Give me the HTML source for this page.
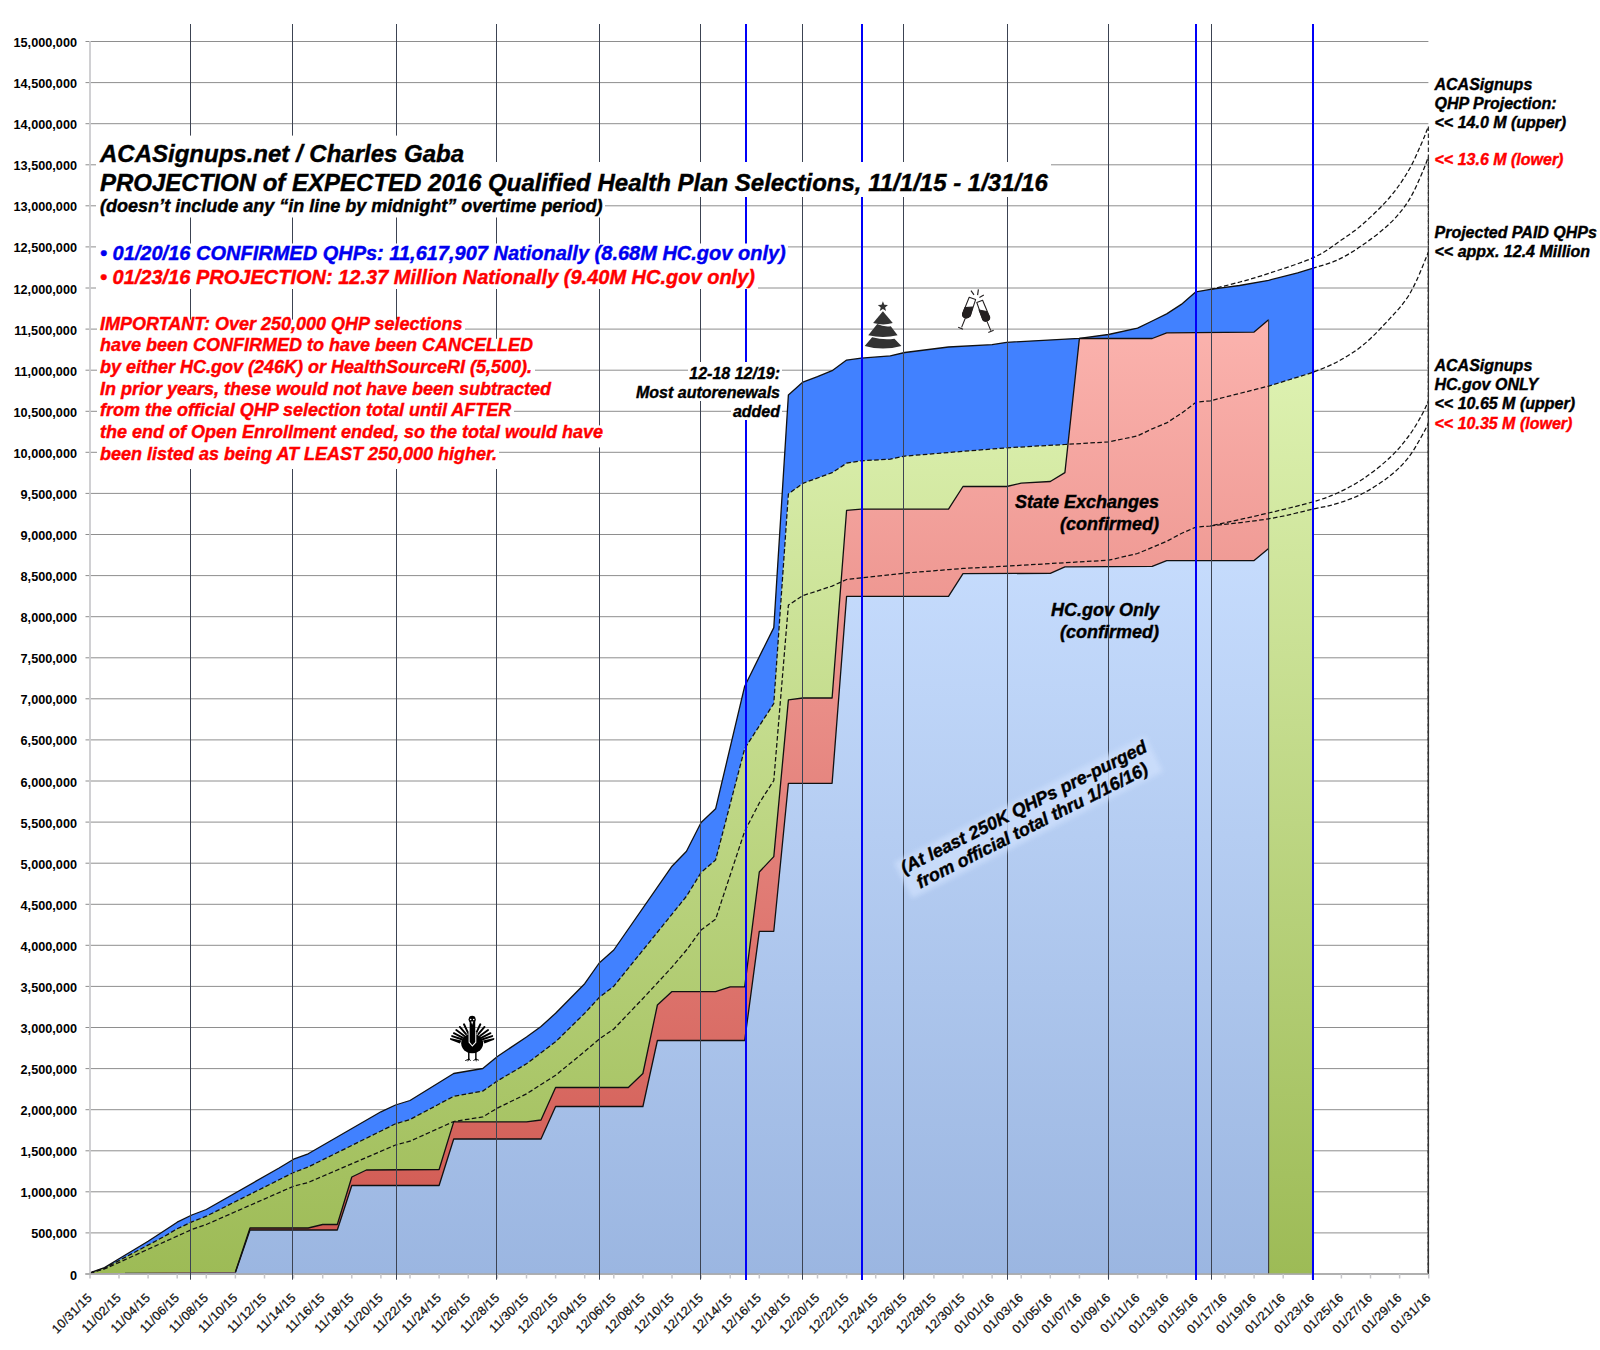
<!DOCTYPE html>
<html lang="en"><head><meta charset="utf-8"><title>ACASignups.net QHP Projection</title>
<style>
html,body{margin:0;padding:0;background:#fff;}
body{width:1600px;height:1350px;overflow:hidden;}
svg{display:block;}
text{font-family:"Liberation Sans",sans-serif;}
.ax{font-weight:bold;font-size:12.7px;fill:#000;}
.bi{font-weight:bold;font-style:italic;color:#000;fill:currentColor;stroke:currentColor;stroke-width:0.4px;}
</style></head><body>
<svg width="1600" height="1350" viewBox="0 0 1600 1350">
<defs>
<linearGradient id="gG" gradientUnits="userSpaceOnUse" x1="0" y1="372" x2="0" y2="1274"><stop offset="0" stop-color="#ddf1b0"/><stop offset="1" stop-color="#9dbb56"/></linearGradient>
<linearGradient id="gR" gradientUnits="userSpaceOnUse" x1="0" y1="320" x2="0" y2="1274"><stop offset="0" stop-color="#fbb3ae"/><stop offset="1" stop-color="#cf564e"/></linearGradient>
<linearGradient id="gL" gradientUnits="userSpaceOnUse" x1="0" y1="548" x2="0" y2="1274"><stop offset="0" stop-color="#c6dcfd"/><stop offset="1" stop-color="#9bb6e1"/></linearGradient>
<filter id="bl" x="-10%" y="-30%" width="120%" height="160%"><feGaussianBlur stdDeviation="2.5"/></filter>
</defs>
<rect width="1600" height="1350" fill="#fff"/>

<g stroke="#8e8e8e" stroke-width="1">
<line x1="85.5" y1="1274.0" x2="1428.4" y2="1274.0"/>
<line x1="85.5" y1="1232.9" x2="1428.4" y2="1232.9"/>
<line x1="85.5" y1="1191.8" x2="1428.4" y2="1191.8"/>
<line x1="85.5" y1="1150.8" x2="1428.4" y2="1150.8"/>
<line x1="85.5" y1="1109.7" x2="1428.4" y2="1109.7"/>
<line x1="85.5" y1="1068.6" x2="1428.4" y2="1068.6"/>
<line x1="85.5" y1="1027.5" x2="1428.4" y2="1027.5"/>
<line x1="85.5" y1="986.4" x2="1428.4" y2="986.4"/>
<line x1="85.5" y1="945.3" x2="1428.4" y2="945.3"/>
<line x1="85.5" y1="904.3" x2="1428.4" y2="904.3"/>
<line x1="85.5" y1="863.2" x2="1428.4" y2="863.2"/>
<line x1="85.5" y1="822.1" x2="1428.4" y2="822.1"/>
<line x1="85.5" y1="781.0" x2="1428.4" y2="781.0"/>
<line x1="85.5" y1="739.9" x2="1428.4" y2="739.9"/>
<line x1="85.5" y1="698.8" x2="1428.4" y2="698.8"/>
<line x1="85.5" y1="657.8" x2="1428.4" y2="657.8"/>
<line x1="85.5" y1="616.7" x2="1428.4" y2="616.7"/>
<line x1="85.5" y1="575.6" x2="1428.4" y2="575.6"/>
<line x1="85.5" y1="534.5" x2="1428.4" y2="534.5"/>
<line x1="85.5" y1="493.4" x2="1428.4" y2="493.4"/>
<line x1="85.5" y1="452.3" x2="1428.4" y2="452.3"/>
<line x1="85.5" y1="411.3" x2="1428.4" y2="411.3"/>
<line x1="85.5" y1="370.2" x2="1428.4" y2="370.2"/>
<line x1="85.5" y1="329.1" x2="1428.4" y2="329.1"/>
<line x1="85.5" y1="288.0" x2="1428.4" y2="288.0"/>
<line x1="85.5" y1="246.9" x2="1428.4" y2="246.9"/>
<line x1="85.5" y1="205.8" x2="1428.4" y2="205.8"/>
<line x1="85.5" y1="164.8" x2="1428.4" y2="164.8"/>
<line x1="85.5" y1="123.7" x2="1428.4" y2="123.7"/>
<line x1="85.5" y1="82.6" x2="1428.4" y2="82.6"/>
<line x1="85.5" y1="41.5" x2="1428.4" y2="41.5"/>
</g>
<polygon points="89.9,1274.0 89.9,1272.8 104.5,1267.6 119.0,1258.8 133.6,1250.0 148.1,1241.3 162.7,1231.7 177.2,1222.2 191.8,1215.0 206.3,1209.5 279.1,1168.0 293.6,1159.2 308.2,1153.8 380.9,1111.8 395.5,1105.0 410.0,1100.5 453.7,1073.5 482.8,1068.5 497.4,1056.5 526.5,1037.0 541.0,1026.4 555.6,1013.3 584.7,983.7 599.2,963.0 613.8,950.0 672.0,866.2 686.5,851.2 701.1,822.5 715.6,808.8 744.7,686.2 773.8,627.6 788.4,394.9 802.9,382.1 817.5,376.7 832.1,370.7 846.6,360.1 861.2,358.2 890.3,355.8 904.8,352.5 948.5,347.0 992.1,344.7 1006.7,342.3 1079.4,338.3 1108.5,334.5 1137.6,328.1 1152.2,321.0 1166.7,313.9 1181.3,304.4 1195.9,291.8 1210.4,289.4 1239.5,285.5 1268.6,280.3 1297.7,272.8 1312.3,268.4 1312.3,1274.0" fill="#4181ff"/>
<polygon points="89.9,1274.0 89.9,1273.0 104.5,1268.3 162.7,1237.3 177.2,1228.8 191.8,1221.9 206.3,1216.2 293.6,1172.5 308.2,1167.0 395.5,1123.8 410.0,1119.5 453.7,1096.3 482.8,1091.1 497.4,1080.9 526.5,1063.8 555.6,1041.8 584.7,1013.3 599.2,997.5 613.8,986.2 686.5,896.2 701.1,872.5 715.6,860.0 744.7,748.5 773.8,703.5 788.4,494.0 802.9,483.3 832.1,472.7 846.6,463.2 861.2,460.8 890.3,459.2 904.8,456.1 1006.7,447.8 1064.9,444.5 1108.5,441.9 1137.6,435.9 1152.2,428.8 1166.7,422.9 1181.3,413.4 1195.9,402.3 1210.4,400.8 1268.6,386.1 1312.3,372.6 1312.3,1274.0" fill="url(#gG)"/>
<polygon points="89.9,1274.0 89.9,1273.5 133.6,1273.0 235.4,1272.0 250.0,1228.0 308.2,1228.0 322.7,1224.5 337.3,1224.5 351.8,1177.0 366.4,1170.0 439.1,1169.5 453.7,1121.9 526.5,1121.9 541.0,1120.0 555.6,1087.5 628.3,1087.5 642.9,1073.5 657.4,1005.0 672.0,991.6 715.6,991.6 730.2,986.8 744.7,986.8 759.3,872.0 773.8,856.6 788.4,699.9 802.9,698.0 832.1,698.0 846.6,510.3 861.2,509.1 948.5,509.1 963.0,486.5 1006.7,486.5 1021.2,483.2 1050.3,481.5 1064.9,472.6 1079.4,338.5 1152.2,338.5 1166.7,332.8 1254.1,332.1 1268.6,319.8 1268.6,1274.0" fill="url(#gR)"/>
<polygon points="89.9,1274.0 89.9,1273.5 235.4,1272.5 250.0,1230.0 337.3,1230.0 351.8,1185.5 439.1,1185.5 453.7,1139.0 541.0,1139.0 555.6,1106.5 642.9,1106.5 657.4,1040.5 744.7,1040.5 759.3,931.3 773.8,931.3 788.4,783.3 832.1,783.3 846.6,596.3 948.5,596.3 963.0,573.6 1050.3,573.4 1064.9,566.8 1152.2,566.4 1166.7,560.6 1254.1,560.6 1268.6,548.6 1268.6,1274.0" fill="url(#gL)"/>
<g fill="none" stroke="#111" stroke-width="1.3" stroke-linejoin="round">
<polyline points="89.9,1272.8 104.5,1267.6 119.0,1258.8 133.6,1250.0 148.1,1241.3 162.7,1231.7 177.2,1222.2 191.8,1215.0 206.3,1209.5 279.1,1168.0 293.6,1159.2 308.2,1153.8 380.9,1111.8 395.5,1105.0 410.0,1100.5 453.7,1073.5 482.8,1068.5 497.4,1056.5 526.5,1037.0 541.0,1026.4 555.6,1013.3 584.7,983.7 599.2,963.0 613.8,950.0 672.0,866.2 686.5,851.2 701.1,822.5 715.6,808.8 744.7,686.2 773.8,627.6 788.4,394.9 802.9,382.1 817.5,376.7 832.1,370.7 846.6,360.1 861.2,358.2 890.3,355.8 904.8,352.5 948.5,347.0 992.1,344.7 1006.7,342.3 1079.4,338.3 1108.5,334.5 1137.6,328.1 1152.2,321.0 1166.7,313.9 1181.3,304.4 1195.9,291.8 1210.4,289.4 1239.5,285.5 1268.6,280.3 1297.7,272.8 1312.3,268.4"/>
<polyline points="235.4,1272.0 250.0,1228.0 308.2,1228.0 322.7,1224.5 337.3,1224.5 351.8,1177.0 366.4,1170.0 439.1,1169.5 453.7,1121.9 526.5,1121.9 541.0,1120.0 555.6,1087.5 628.3,1087.5 642.9,1073.5 657.4,1005.0 672.0,991.6 715.6,991.6 730.2,986.8 744.7,986.8 759.3,872.0 773.8,856.6 788.4,699.9 802.9,698.0 832.1,698.0 846.6,510.3 861.2,509.1 948.5,509.1 963.0,486.5 1006.7,486.5 1021.2,483.2 1050.3,481.5 1064.9,472.6 1079.4,338.5 1152.2,338.5 1166.7,332.8 1254.1,332.1 1268.6,319.8"/>
<polyline points="235.4,1272.5 250.0,1230.0 337.3,1230.0 351.8,1185.5 439.1,1185.5 453.7,1139.0 541.0,1139.0 555.6,1106.5 642.9,1106.5 657.4,1040.5 744.7,1040.5 759.3,931.3 773.8,931.3 788.4,783.3 832.1,783.3 846.6,596.3 948.5,596.3 963.0,573.6 1050.3,573.4 1064.9,566.8 1152.2,566.4 1166.7,560.6 1254.1,560.6 1268.6,548.6"/>
<line x1="1268.6" y1="319.8" x2="1268.6" y2="1274.0" stroke="#3a3a3a" stroke-width="1.1"/>
<line x1="125" y1="1273" x2="235.4" y2="1272.6" stroke-width="0.7" stroke="#444"/>
</g>
<g fill="none" stroke="#111" stroke-width="1.25" stroke-dasharray="4.6,2.4">
<path d="M89.9,1273.0 L104.5,1268.3 L162.7,1237.3 L177.2,1228.8 L191.8,1221.9 L206.3,1216.2 L293.6,1172.5 L308.2,1167.0 L395.5,1123.8 L410.0,1119.5 L453.7,1096.3 L482.8,1091.1 L497.4,1080.9 L526.5,1063.8 L555.6,1041.8 L584.7,1013.3 L599.2,997.5 L613.8,986.2 L686.5,896.2 L701.1,872.5 L715.6,860.0 L744.7,748.5 L773.8,703.5 L788.4,494.0 L802.9,483.3 L832.1,472.7 L846.6,463.2 L861.2,460.8 L890.3,459.2 L904.8,456.1 L1006.7,447.8 L1064.9,444.5 L1108.5,441.9 L1137.6,435.9 L1152.2,428.8 L1166.7,422.9 L1181.3,413.4 L1195.9,402.3 L1210.4,400.8 L1268.6,386.1 L1312.3,372.6 L1312.3,372.6 C1316.5,370.8 1328.9,366.4 1337.5,361.7 C1346.1,357.0 1355.0,351.8 1363.7,344.6 C1372.5,337.4 1383.0,325.8 1390.0,318.4 C1397.0,311.0 1401.3,306.2 1405.7,300.0 C1410.1,293.8 1412.5,289.0 1416.3,281.0 C1420.1,273.0 1426.4,256.9 1428.4,252.1"/>
<path d="M89.9,1273.2 L104.5,1269.0 L191.8,1229.5 L206.3,1224.5 L293.6,1186.2 L308.2,1182.5 L395.5,1145.0 L410.0,1141.2 L453.7,1121.5 L482.8,1116.9 L497.4,1108.1 L526.5,1093.9 L555.6,1075.3 L584.7,1051.5 L599.2,1039.0 L613.8,1029.0 L642.9,998.5 L672.0,967.1 L686.5,950.0 L701.1,930.0 L715.6,919.2 L744.7,831.2 L759.3,803.0 L773.8,780.5 L788.4,605.1 L802.9,595.6 L832.1,586.1 L846.6,579.5 L861.2,577.9 L904.8,573.1 L948.5,569.6 L963.0,568.4 L1006.7,566.1 L1108.5,560.2 L1137.6,553.5 L1152.2,547.4 L1166.7,541.3 L1181.3,533.5 L1195.9,527.1 L1210.4,526.0 L1210.4,526.0 C1220.1,523.8 1251.6,517.0 1268.6,513.0 C1285.6,509.0 1300.8,505.3 1312.3,502.0 C1323.7,498.7 1328.9,496.9 1337.5,493.0 C1346.1,489.1 1355.0,484.4 1363.7,478.5 C1372.5,472.6 1382.5,464.5 1390.0,457.5 C1397.5,450.5 1403.2,443.5 1408.4,436.5 C1413.7,429.5 1418.2,421.4 1421.5,415.5 C1424.8,409.6 1427.2,403.4 1428.4,401.0"/>
<path d="M1210.4,526.0 C1220.1,524.8 1251.6,521.6 1268.6,518.8 C1285.6,516.0 1300.8,511.9 1312.3,509.3 C1323.7,506.7 1328.9,506.1 1337.5,503.4 C1346.1,500.7 1355.0,497.6 1363.7,493.0 C1372.5,488.4 1382.5,481.8 1390.0,475.9 C1397.5,470.0 1403.2,464.1 1408.4,457.5 C1413.7,450.9 1418.2,442.2 1421.5,436.5 C1424.8,430.8 1427.2,425.6 1428.4,423.4"/>
<path d="M1210.4,289.4 C1215.3,288.2 1230.1,284.7 1240.0,282.0 C1249.9,279.3 1257.7,277.1 1270.0,273.0 C1282.3,268.9 1302.2,262.7 1313.9,257.4 C1325.6,252.1 1331.7,246.7 1340.0,241.0 C1348.3,235.3 1355.4,230.6 1363.7,223.3 C1372.0,216.0 1382.5,205.8 1390.0,197.0 C1397.5,188.2 1403.2,179.7 1408.4,170.8 C1413.7,161.9 1418.2,150.9 1421.5,143.5 C1424.8,136.1 1427.2,129.3 1428.4,126.5"/>
<path d="M1312.3,268.4 C1316.5,267.0 1328.9,264.0 1337.5,260.0 C1346.1,256.0 1355.0,250.4 1363.7,244.3 C1372.5,238.2 1382.5,230.5 1390.0,223.3 C1397.5,216.1 1403.2,209.1 1408.4,201.0 C1413.7,192.9 1418.2,181.8 1421.5,174.5 C1424.8,167.2 1427.2,159.9 1428.4,157.0"/>
<line x1="1428.4" y1="126.5" x2="1428.4" y2="1274.0" stroke="#333"/>
<line x1="1428.4" y1="157.0" x2="1428.4" y2="1274.0" stroke="#333"/>
<line x1="1428.4" y1="252.1" x2="1428.4" y2="1274.0" stroke="#333"/>
<line x1="1428.4" y1="401.0" x2="1428.4" y2="1274.0" stroke="#333"/>
<line x1="1428.4" y1="423.4" x2="1428.4" y2="1274.0" stroke="#333"/>
</g>
<g stroke="#cbcbce" stroke-width="1.8">
<line x1="90" y1="41" x2="90" y2="1278.4"/>
</g>
<line x1="85.3" y1="1274" x2="1428.4" y2="1274" stroke="#a8a8a8" stroke-width="1.4"/>
<g stroke="#c6c6ca" stroke-width="1.5">
<line x1="119.0" y1="1274.0" x2="119.0" y2="1278.5"/>
<line x1="148.1" y1="1274.0" x2="148.1" y2="1278.5"/>
<line x1="177.2" y1="1274.0" x2="177.2" y2="1278.5"/>
<line x1="206.3" y1="1274.0" x2="206.3" y2="1278.5"/>
<line x1="235.4" y1="1274.0" x2="235.4" y2="1278.5"/>
<line x1="264.5" y1="1274.0" x2="264.5" y2="1278.5"/>
<line x1="293.6" y1="1274.0" x2="293.6" y2="1278.5"/>
<line x1="322.7" y1="1274.0" x2="322.7" y2="1278.5"/>
<line x1="351.8" y1="1274.0" x2="351.8" y2="1278.5"/>
<line x1="380.9" y1="1274.0" x2="380.9" y2="1278.5"/>
<line x1="410.0" y1="1274.0" x2="410.0" y2="1278.5"/>
<line x1="439.1" y1="1274.0" x2="439.1" y2="1278.5"/>
<line x1="468.3" y1="1274.0" x2="468.3" y2="1278.5"/>
<line x1="497.4" y1="1274.0" x2="497.4" y2="1278.5"/>
<line x1="526.5" y1="1274.0" x2="526.5" y2="1278.5"/>
<line x1="555.6" y1="1274.0" x2="555.6" y2="1278.5"/>
<line x1="584.7" y1="1274.0" x2="584.7" y2="1278.5"/>
<line x1="613.8" y1="1274.0" x2="613.8" y2="1278.5"/>
<line x1="642.9" y1="1274.0" x2="642.9" y2="1278.5"/>
<line x1="672.0" y1="1274.0" x2="672.0" y2="1278.5"/>
<line x1="701.1" y1="1274.0" x2="701.1" y2="1278.5"/>
<line x1="730.2" y1="1274.0" x2="730.2" y2="1278.5"/>
<line x1="759.3" y1="1274.0" x2="759.3" y2="1278.5"/>
<line x1="788.4" y1="1274.0" x2="788.4" y2="1278.5"/>
<line x1="817.5" y1="1274.0" x2="817.5" y2="1278.5"/>
<line x1="846.6" y1="1274.0" x2="846.6" y2="1278.5"/>
<line x1="875.7" y1="1274.0" x2="875.7" y2="1278.5"/>
<line x1="904.8" y1="1274.0" x2="904.8" y2="1278.5"/>
<line x1="933.9" y1="1274.0" x2="933.9" y2="1278.5"/>
<line x1="963.0" y1="1274.0" x2="963.0" y2="1278.5"/>
<line x1="992.1" y1="1274.0" x2="992.1" y2="1278.5"/>
<line x1="1021.2" y1="1274.0" x2="1021.2" y2="1278.5"/>
<line x1="1050.3" y1="1274.0" x2="1050.3" y2="1278.5"/>
<line x1="1079.4" y1="1274.0" x2="1079.4" y2="1278.5"/>
<line x1="1108.5" y1="1274.0" x2="1108.5" y2="1278.5"/>
<line x1="1137.6" y1="1274.0" x2="1137.6" y2="1278.5"/>
<line x1="1166.7" y1="1274.0" x2="1166.7" y2="1278.5"/>
<line x1="1195.9" y1="1274.0" x2="1195.9" y2="1278.5"/>
<line x1="1225.0" y1="1274.0" x2="1225.0" y2="1278.5"/>
<line x1="1254.1" y1="1274.0" x2="1254.1" y2="1278.5"/>
<line x1="1283.2" y1="1274.0" x2="1283.2" y2="1278.5"/>
<line x1="1312.3" y1="1274.0" x2="1312.3" y2="1278.5"/>
<line x1="1341.4" y1="1274.0" x2="1341.4" y2="1278.5"/>
<line x1="1370.5" y1="1274.0" x2="1370.5" y2="1278.5"/>
<line x1="1399.6" y1="1274.0" x2="1399.6" y2="1278.5"/>
<line x1="1428.7" y1="1274.0" x2="1428.7" y2="1278.5"/>
</g>
<g stroke="#3c4352" stroke-width="1">
<line x1="190.5" y1="24" x2="190.5" y2="1279.7"/>
<line x1="292.5" y1="24" x2="292.5" y2="1279.7"/>
<line x1="396.5" y1="24" x2="396.5" y2="1279.7"/>
<line x1="496.5" y1="24" x2="496.5" y2="1279.7"/>
<line x1="599.5" y1="24" x2="599.5" y2="1279.7"/>
<line x1="700.5" y1="24" x2="700.5" y2="1279.7"/>
<line x1="802.5" y1="24" x2="802.5" y2="1279.7"/>
<line x1="903.5" y1="24" x2="903.5" y2="1279.7"/>
<line x1="1007.5" y1="24" x2="1007.5" y2="1279.7"/>
<line x1="1108.5" y1="24" x2="1108.5" y2="1279.7"/>
<line x1="1211.5" y1="24" x2="1211.5" y2="1279.7"/>
</g>
<g stroke="#0000f8" stroke-width="2">
<line x1="746.0" y1="24" x2="746.0" y2="1280"/>
<line x1="862.0" y1="24" x2="862.0" y2="1280"/>
<line x1="1196.0" y1="24" x2="1196.0" y2="1280"/>
<line x1="1313.0" y1="24" x2="1313.0" y2="1280"/>
</g>
<g class="ax" text-anchor="end">
<text x="77" y="1279.5">0</text>
<text x="77" y="1238.4">500,000</text>
<text x="77" y="1197.3">1,000,000</text>
<text x="77" y="1156.3">1,500,000</text>
<text x="77" y="1115.2">2,000,000</text>
<text x="77" y="1074.1">2,500,000</text>
<text x="77" y="1033.0">3,000,000</text>
<text x="77" y="991.9">3,500,000</text>
<text x="77" y="950.8">4,000,000</text>
<text x="77" y="909.8">4,500,000</text>
<text x="77" y="868.7">5,000,000</text>
<text x="77" y="827.6">5,500,000</text>
<text x="77" y="786.5">6,000,000</text>
<text x="77" y="745.4">6,500,000</text>
<text x="77" y="704.3">7,000,000</text>
<text x="77" y="663.3">7,500,000</text>
<text x="77" y="622.2">8,000,000</text>
<text x="77" y="581.1">8,500,000</text>
<text x="77" y="540.0">9,000,000</text>
<text x="77" y="498.9">9,500,000</text>
<text x="77" y="457.8">10,000,000</text>
<text x="77" y="416.8">10,500,000</text>
<text x="77" y="375.7">11,000,000</text>
<text x="77" y="334.6">11,500,000</text>
<text x="77" y="293.5">12,000,000</text>
<text x="77" y="252.4">12,500,000</text>
<text x="77" y="211.3">13,000,000</text>
<text x="77" y="170.3">13,500,000</text>
<text x="77" y="129.2">14,000,000</text>
<text x="77" y="88.1">14,500,000</text>
<text x="77" y="47.0">15,000,000</text>
</g>
<g text-anchor="end" style="font-size:12.5px;letter-spacing:0.25px;fill:#111;stroke:#111;stroke-width:0.25px">
<text transform="translate(92.8,1298.3) rotate(-45)" x="0" y="0">10/31/15</text>
<text transform="translate(121.9,1298.3) rotate(-45)" x="0" y="0">11/02/15</text>
<text transform="translate(151.0,1298.3) rotate(-45)" x="0" y="0">11/04/15</text>
<text transform="translate(180.1,1298.3) rotate(-45)" x="0" y="0">11/06/15</text>
<text transform="translate(209.2,1298.3) rotate(-45)" x="0" y="0">11/08/15</text>
<text transform="translate(238.3,1298.3) rotate(-45)" x="0" y="0">11/10/15</text>
<text transform="translate(267.4,1298.3) rotate(-45)" x="0" y="0">11/12/15</text>
<text transform="translate(296.5,1298.3) rotate(-45)" x="0" y="0">11/14/15</text>
<text transform="translate(325.6,1298.3) rotate(-45)" x="0" y="0">11/16/15</text>
<text transform="translate(354.7,1298.3) rotate(-45)" x="0" y="0">11/18/15</text>
<text transform="translate(383.8,1298.3) rotate(-45)" x="0" y="0">11/20/15</text>
<text transform="translate(412.9,1298.3) rotate(-45)" x="0" y="0">11/22/15</text>
<text transform="translate(442.0,1298.3) rotate(-45)" x="0" y="0">11/24/15</text>
<text transform="translate(471.2,1298.3) rotate(-45)" x="0" y="0">11/26/15</text>
<text transform="translate(500.3,1298.3) rotate(-45)" x="0" y="0">11/28/15</text>
<text transform="translate(529.4,1298.3) rotate(-45)" x="0" y="0">11/30/15</text>
<text transform="translate(558.5,1298.3) rotate(-45)" x="0" y="0">12/02/15</text>
<text transform="translate(587.6,1298.3) rotate(-45)" x="0" y="0">12/04/15</text>
<text transform="translate(616.7,1298.3) rotate(-45)" x="0" y="0">12/06/15</text>
<text transform="translate(645.8,1298.3) rotate(-45)" x="0" y="0">12/08/15</text>
<text transform="translate(674.9,1298.3) rotate(-45)" x="0" y="0">12/10/15</text>
<text transform="translate(704.0,1298.3) rotate(-45)" x="0" y="0">12/12/15</text>
<text transform="translate(733.1,1298.3) rotate(-45)" x="0" y="0">12/14/15</text>
<text transform="translate(762.2,1298.3) rotate(-45)" x="0" y="0">12/16/15</text>
<text transform="translate(791.3,1298.3) rotate(-45)" x="0" y="0">12/18/15</text>
<text transform="translate(820.4,1298.3) rotate(-45)" x="0" y="0">12/20/15</text>
<text transform="translate(849.5,1298.3) rotate(-45)" x="0" y="0">12/22/15</text>
<text transform="translate(878.6,1298.3) rotate(-45)" x="0" y="0">12/24/15</text>
<text transform="translate(907.7,1298.3) rotate(-45)" x="0" y="0">12/26/15</text>
<text transform="translate(936.8,1298.3) rotate(-45)" x="0" y="0">12/28/15</text>
<text transform="translate(965.9,1298.3) rotate(-45)" x="0" y="0">12/30/15</text>
<text transform="translate(995.0,1298.3) rotate(-45)" x="0" y="0">01/01/16</text>
<text transform="translate(1024.1,1298.3) rotate(-45)" x="0" y="0">01/03/16</text>
<text transform="translate(1053.2,1298.3) rotate(-45)" x="0" y="0">01/05/16</text>
<text transform="translate(1082.3,1298.3) rotate(-45)" x="0" y="0">01/07/16</text>
<text transform="translate(1111.4,1298.3) rotate(-45)" x="0" y="0">01/09/16</text>
<text transform="translate(1140.5,1298.3) rotate(-45)" x="0" y="0">01/11/16</text>
<text transform="translate(1169.6,1298.3) rotate(-45)" x="0" y="0">01/13/16</text>
<text transform="translate(1198.8,1298.3) rotate(-45)" x="0" y="0">01/15/16</text>
<text transform="translate(1227.9,1298.3) rotate(-45)" x="0" y="0">01/17/16</text>
<text transform="translate(1257.0,1298.3) rotate(-45)" x="0" y="0">01/19/16</text>
<text transform="translate(1286.1,1298.3) rotate(-45)" x="0" y="0">01/21/16</text>
<text transform="translate(1315.2,1298.3) rotate(-45)" x="0" y="0">01/23/16</text>
<text transform="translate(1344.3,1298.3) rotate(-45)" x="0" y="0">01/25/16</text>
<text transform="translate(1373.4,1298.3) rotate(-45)" x="0" y="0">01/27/16</text>
<text transform="translate(1402.5,1298.3) rotate(-45)" x="0" y="0">01/29/16</text>
<text transform="translate(1431.6,1298.3) rotate(-45)" x="0" y="0">01/31/16</text>
</g>
<rect x="96.0" y="135.6" width="372.0" height="31.0" fill="#fff"/>
<rect x="96.0" y="162.0" width="955.0" height="35.0" fill="#fff"/>
<rect x="96.0" y="196.0" width="509.0" height="21.5" fill="#fff"/>
<rect x="96.0" y="243.5" width="692.0" height="22.0" fill="#fff"/>
<rect x="96.0" y="265.0" width="662.0" height="24.0" fill="#fff"/>
<text class="bi" x="100" y="161.6" font-size="24">ACASignups.net / Charles Gaba</text>
<text class="bi" x="100" y="190.7" font-size="24">PROJECTION of EXPECTED 2016 Qualified Health Plan Selections, 11/1/15 - 1/31/16</text>
<text class="bi" x="100" y="212" font-size="18">(doesn’t include any “in line by midnight” overtime period)</text>
<text class="bi" x="100" y="259.8" font-size="20" style="color:#0000f0">• 01/20/16 CONFIRMED QHPs: 11,617,907 Nationally (8.68M HC.gov only)</text>
<text class="bi" x="100" y="283.6" font-size="20" style="color:#ff0000">• 01/23/16 PROJECTION: 12.37 Million Nationally (9.40M HC.gov only)</text>
<rect x="97.0" y="319.6" width="368.0" height="19.5" fill="#fff"/>
<rect x="97.0" y="338.8" width="439.0" height="22.0" fill="#fff"/>
<rect x="97.0" y="360.4" width="438.0" height="22.0" fill="#fff"/>
<rect x="97.0" y="382.1" width="457.0" height="22.0" fill="#fff"/>
<rect x="97.0" y="403.7" width="417.0" height="22.0" fill="#fff"/>
<rect x="97.0" y="425.4" width="509.0" height="22.0" fill="#fff"/>
<rect x="97.0" y="447.0" width="402.0" height="22.0" fill="#fff"/>
<text class="bi" x="100" y="329.6" font-size="18" style="color:#ff0000">IMPORTANT: Over 250,000 QHP selections</text>
<text class="bi" x="100" y="351.2" font-size="18" style="color:#ff0000">have been CONFIRMED to have been CANCELLED</text>
<text class="bi" x="100" y="372.9" font-size="18" style="color:#ff0000">by either HC.gov (246K) or HealthSourceRI (5,500).</text>
<text class="bi" x="100" y="394.6" font-size="18" style="color:#ff0000">In prior years, these would not have been subtracted</text>
<text class="bi" x="100" y="416.2" font-size="18" style="color:#ff0000">from the official QHP selection total until AFTER</text>
<text class="bi" x="100" y="437.9" font-size="18" style="color:#ff0000">the end of Open Enrollment ended, so the total would have</text>
<text class="bi" x="100" y="459.5" font-size="18" style="color:#ff0000">been listed as being AT LEAST 250,000 higher.</text>
<rect x="688.0" y="362.0" width="94.0" height="20.0" fill="#fff"/>
<rect x="634.0" y="381.0" width="148.0" height="20.0" fill="#fff"/>
<rect x="731.0" y="400.0" width="51.0" height="20.0" fill="#fff"/>
<g class="bi" text-anchor="end" font-size="16">
<text x="780" y="378.8">12-18 12/19:</text><text x="780" y="397.8">Most autorenewals</text><text x="780" y="416.8">added</text>
</g>
<g class="bi" text-anchor="end" font-size="18">
<text x="1159" y="508">State Exchanges</text><text x="1159" y="530.3">(confirmed)</text>
<text x="1159" y="615.8">HC.gov Only</text><text x="1159" y="638.2">(confirmed)</text>
</g>
<g transform="translate(904.5,874.2) rotate(-26.8)">
<rect x="-4" y="-15" width="281" height="40" fill="#cddffc" opacity="0.8" filter="url(#bl)"/>
<text class="bi" x="0" y="0" font-size="18">(At least 250K QHPs pre-purged</text>
<text class="bi" x="7.5" y="20" font-size="18">from official total thru 1/16/16)</text>
</g>
<g class="bi" font-size="16">
<text x="1434.5" y="90">ACASignups</text><text x="1434.5" y="109.2">QHP Projection:</text><text x="1434.5" y="128">&lt;&lt; 14.0 M (upper)</text>
<text x="1434.5" y="164.5" style="color:#ff0000">&lt;&lt; 13.6 M (lower)</text>
<text x="1434.5" y="238">Projected PAID QHPs</text><text x="1434.5" y="257.3">&lt;&lt; appx. 12.4 Million</text>
<text x="1434.5" y="371">ACASignups</text><text x="1434.5" y="390.2">HC.gov ONLY</text><text x="1434.5" y="409.3">&lt;&lt; 10.65 M (upper)</text>
<text x="1434.5" y="428.6" style="color:#ff0000">&lt;&lt; 10.35 M (lower)</text>
</g>
<g transform="translate(440,1005) scale(0.048146)">
<g stroke="#000" stroke-width="40" stroke-linecap="round">
<line x1="498" y1="400" x2="585" y2="585"/>
<line x1="838" y1="400" x2="751" y2="585"/>
<line x1="412" y1="455" x2="540" y2="605"/>
<line x1="924" y1="455" x2="796" y2="605"/>
<line x1="338" y1="520" x2="500" y2="640"/>
<line x1="998" y1="520" x2="836" y2="640"/>
<line x1="288" y1="585" x2="470" y2="678"/>
<line x1="1048" y1="585" x2="866" y2="678"/>
<line x1="252" y1="645" x2="450" y2="712"/>
<line x1="1084" y1="645" x2="886" y2="712"/>
</g>
<polygon points="208,688 445,735 412,800 212,722" fill="#000"/>
<polygon points="1128,688 891,735 924,800 1124,722" fill="#000"/>
<ellipse cx="668" cy="797" rx="228" ry="207" fill="#000"/>
<path d="M616,560 L616,770 L672,835 L732,770 L732,560" fill="none" stroke="#fff" stroke-width="44" stroke-linejoin="miter"/>
<path d="M616,300 L732,300 L732,770 L672,835 L616,770 Z" fill="#000"/>
<circle cx="668" cy="298" r="74" fill="#000"/>
<circle cx="636" cy="302" r="17" fill="#fff"/><circle cx="700" cy="302" r="17" fill="#fff"/>
<polygon points="646,345 690,345 668,410" fill="#fff"/>
<g stroke="#000" stroke-width="30" fill="none"><line x1="598" y1="980" x2="598" y2="1135"/><line x1="745" y1="980" x2="745" y2="1135"/></g>
<g stroke="#000" stroke-width="20" stroke-linecap="round" fill="none"><path d="M598,1125 L532,1152 M598,1125 L580,1162 M598,1125 L632,1150"/><path d="M745,1125 L700,1150 M745,1125 L752,1162 M745,1125 L800,1145"/></g>
</g>
<g transform="translate(855,290) scale(0.044444)" fill="#333">
<polygon points="628,255 659,333 742,338 677,391 699,472 628,427 557,472 579,391 514,338 597,333"/>
<path d="M628,478 L850,745 Q640,805 408,745 Z"/>
<path d="M500,765 Q640,835 805,815 L958,1018 Q628,1100 298,1018 Z"/>
<path d="M385,1062 Q640,1130 888,1095 L1045,1262 Q628,1375 218,1262 Z"/>
</g>
<g transform="translate(950,282) scale(0.04)" stroke="#231f20" stroke-width="27" fill="none" stroke-linejoin="round">
<path d="M480,380 L640,440 L505,850 Q440,925 350,880 Q300,850 315,790 Z"/>
<path d="M372,640 L565,625 L505,850 Q440,925 350,880 Q300,850 315,790 Z" fill="#231f20"/>
<path d="M385,900 L290,1135 M205,1130 L325,1180"/>
<path d="M670,512 L815,455 L990,875 Q1000,950 920,975 Q850,990 820,940 Z"/>
<path d="M728,700 L915,738 L990,875 Q1000,950 920,975 Q850,990 820,940 Z" fill="#231f20"/>
<path d="M925,985 L1020,1215 M958,1262 L1092,1208"/>
<path d="M525,215 L600,320 M710,185 L690,330 M845,325 L735,385" stroke-width="29"/>
</g>
</svg></body></html>
